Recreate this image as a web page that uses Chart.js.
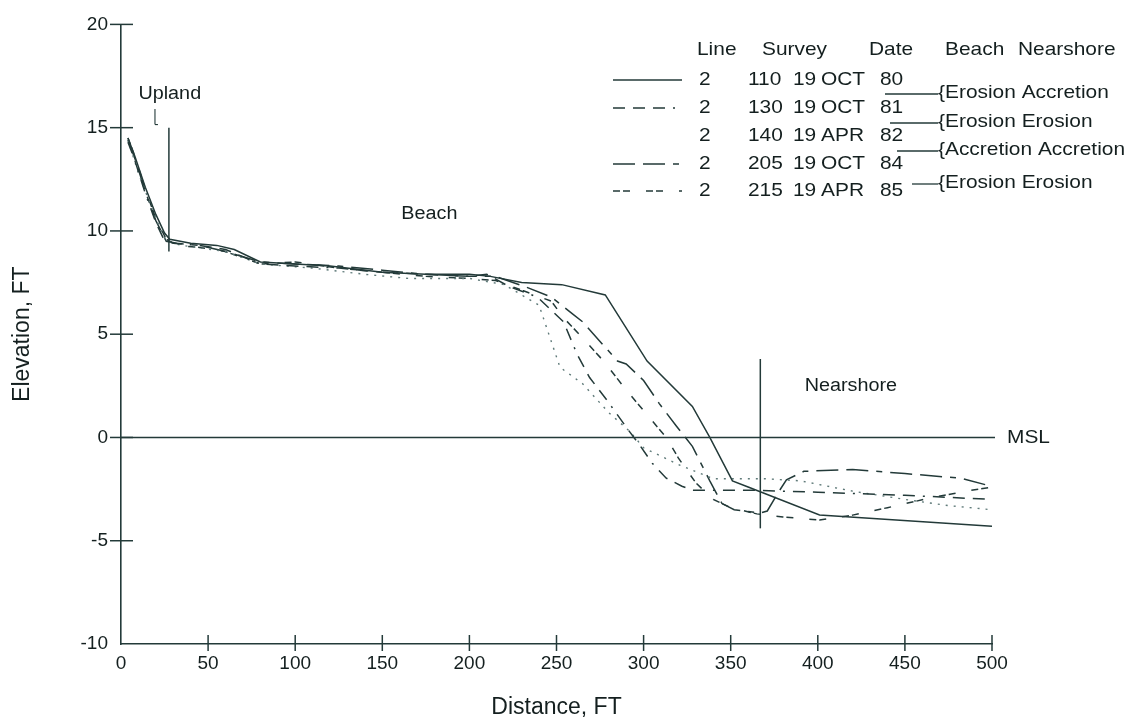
<!DOCTYPE html>
<html>
<head>
<meta charset="utf-8">
<script src="https://cdn.jsdelivr.net/npm/chart.js@4.4.1/dist/chart.umd.min.js"></script>
<style>
  body { margin: 0; background: #fff; }
  canvas { display: block; }
</style>
</head>
<body>
<canvas id="profile" width="1126" height="724"></canvas>
<script>
// Beach profile, line 2 -- distance (ft) vs elevation (ft) for five surveys
const dist110 = [4, 8, 14, 20, 25, 28, 40, 55, 65, 80, 100, 120, 150, 175, 200, 212, 230, 253, 278, 302, 328, 338, 351, 360, 401, 500];
const elev110 = [14.5, 13.6, 12.1, 10.8, 9.9, 9.6, 9.4, 9.3, 9.1, 8.5, 8.4, 8.3, 8.0, 7.9, 7.9, 7.8, 7.5, 7.4, 6.9, 3.7, 1.5, 0.0, -2.1, -2.4, -3.75, -4.3];

const dist130 = [4, 8, 14, 20, 24, 30, 45, 60, 80, 100, 125, 150, 175, 200, 210, 223, 239, 254, 262, 269, 279, 290, 298, 305, 313, 322, 328, 360, 400, 450, 500];
const elev130 = [14.3, 13.4, 11.8, 10.4, 9.7, 9.4, 9.3, 9.1, 8.4, 8.3, 8.2, 8.0, 7.9, 7.8, 7.9, 7.3, 6.8, 5.6, 4.0, 2.9, 1.8, 0.5, -0.4, -1.25, -1.97, -2.36, -2.55, -2.55, -2.65, -2.8, -3.0];

const dist140 = [4, 10, 20, 26, 35, 60, 80, 110, 140, 165, 185, 200, 220, 240, 252, 265, 280, 292, 300, 321, 340, 370, 390, 420, 450, 475, 500];
const elev140 = [14.4, 12.8, 10.6, 9.5, 9.3, 9.0, 8.4, 8.2, 7.9, 7.7, 7.7, 7.7, 7.4, 6.4, 3.4, 2.6, 1.2, 0.3, -0.5, -1.35, -2.0, -2.0, -2.1, -2.6, -3.0, -3.3, -3.5];

const dist205 = [4, 8, 14, 20, 26, 32, 45, 60, 80, 100, 125, 150, 175, 200, 215, 232, 247, 259, 265, 285, 290, 300, 309, 319, 328, 332, 338, 345, 352, 367, 371, 377, 382, 392, 420, 450, 482, 500];
const elev205 = [14.4, 13.5, 11.9, 10.5, 9.5, 9.4, 9.3, 9.0, 8.5, 8.4, 8.3, 8.1, 7.9, 7.8, 7.8, 7.3, 6.8, 6.0, 5.6, 3.7, 3.56, 2.76, 1.64, 0.53, -0.43, -1.1, -2.1, -3.2, -3.5, -3.66, -3.56, -2.7, -2.05, -1.64, -1.55, -1.75, -1.97, -2.37];

const dist215 = [4, 8, 14, 20, 26, 32, 45, 60, 80, 100, 125, 150, 175, 200, 215, 231, 247, 254, 263, 277, 290, 308, 313, 320, 330, 340, 350, 365, 380, 401, 420, 440, 464, 485, 500];
const elev215 = [14.5, 13.6, 12.0, 10.6, 9.6, 9.3, 9.2, 9.0, 8.4, 8.5, 8.2, 8.0, 7.8, 7.7, 7.6, 7.1, 6.6, 5.8, 5.0, 3.7, 2.3, 0.5, 0.0, -1.0, -2.2, -3.0, -3.4, -3.7, -3.85, -4.0, -3.76, -3.4, -2.94, -2.6, -2.4];

// legend table
const lineNumbers = ['2', '2', '2', '2', '2'];
const surveyIds = ['110', '130', '140', '205', '215'];
const surveyDays = ['19', '19', '19', '19', '19'];
const surveyMonths = ['OCT', 'OCT', 'APR', 'OCT', 'APR'];
const surveyYears = ['80', '81', '82', '84', '85'];
const changeNotes = ['{Erosion Accretion', '{Erosion Erosion', '{Accretion Accretion', '{Erosion Erosion'];

// x ticks / y ticks
const xTicks = [0, 50, 100, 150, 200, 250, 300, 350, 400, 450, 500];
const yTicks = [-10, -5, 0, 5, 10, 15, 20];

const ink = '#233a39';
const textInk = '#141f1f';
const fontFamily = '"Liberation Sans", Arial, Helvetica, sans-serif';

function toPoints(xs, ys) {
  return xs.map((d, i) => ({ x: d, y: ys[i] }));
}

function line(ctx, x1, y1, x2, y2) {
  ctx.beginPath();
  ctx.moveTo(x1, y1);
  ctx.lineTo(x2, y2);
  ctx.stroke();
}

// the scanned text is a bit wider than it is tall, so stretch it a little
function wideText(ctx, txt, x, y, size, align) {
  ctx.save();
  ctx.font = size + 'px ' + fontFamily;
  ctx.fillStyle = textInk;
  ctx.textBaseline = 'middle';
  ctx.textAlign = align || 'left';
  ctx.translate(x, y);
  ctx.scale(1.1, 1);
  ctx.fillText(txt, 0, 0);
  ctx.restore();
}

const profileMarks = {
  id: 'profileMarks',
  afterDraw(chart) {
    const ctx = chart.ctx;
    const x = chart.scales.x;
    const y = chart.scales.y;
    ctx.save();
    ctx.strokeStyle = ink;
    ctx.lineWidth = 1.5;

    // tick marks crossing the axes
    yTicks.forEach(v => {
      if (v === -10) return;
      const py = y.getPixelForValue(v);
      line(ctx, x.left - 11, py, x.left + 12, py);
    });
    xTicks.forEach(v => {
      if (v === 0) return;
      const px = x.getPixelForValue(v);
      line(ctx, px, y.bottom - 9, px, y.bottom + 7);
    });

    // mean sea level
    const y0 = y.getPixelForValue(0);
    line(ctx, x.getPixelForValue(0), y0, x.getPixelForValue(500) + 3, y0);
    wideText(ctx, 'MSL', x.right + 15, y0, 19);

    // upland divider
    const ux = x.getPixelForValue(27.5);
    line(ctx, ux, y.getPixelForValue(15.0), ux, y.getPixelForValue(9.0));
    wideText(ctx, 'Upland', x.getPixelForValue(28), y.getPixelForValue(16.65), 18, 'center');
    ctx.lineWidth = 1.1;
    const bx = x.getPixelForValue(19.5);
    line(ctx, bx, y.getPixelForValue(15.9), bx, y.getPixelForValue(15.15));
    line(ctx, bx, y.getPixelForValue(15.15), bx + 3, y.getPixelForValue(15.15));
    ctx.lineWidth = 1.5;

    // nearshore divider
    const nx = x.getPixelForValue(367);
    line(ctx, nx, y.getPixelForValue(3.8), nx, y.getPixelForValue(-4.4));
    wideText(ctx, 'Nearshore', x.getPixelForValue(419), y.getPixelForValue(2.5), 18, 'center');

    wideText(ctx, 'Beach', x.getPixelForValue(177), y.getPixelForValue(10.8), 18, 'center');

    drawLegend(chart);
    ctx.restore();
  }
};

function drawLegend(chart) {
  const ctx = chart.ctx;
  const sets = chart.data.datasets;
  const rowY = [80, 108, 136, 164, 191];

  wideText(ctx, 'Line', 697, 50, 19);
  wideText(ctx, 'Survey', 762, 50, 19);
  wideText(ctx, 'Date', 869, 50, 19);
  wideText(ctx, 'Beach', 945, 50, 19);
  wideText(ctx, 'Nearshore', 1018, 50, 19);

  rowY.forEach((ry, i) => {
    const ds = sets[i];
    if (!ds.hideSample) {
      ctx.save();
      ctx.strokeStyle = ds.borderColor;
      ctx.lineWidth = ds.borderWidth;
      ctx.setLineDash(ds.borderDash || []);
      line(ctx, 613, ry, 682, ry);
      ctx.restore();
    }
    wideText(ctx, lineNumbers[i], 699, ry, 19);
    wideText(ctx, surveyIds[i], 748, ry, 19);
    wideText(ctx, surveyDays[i], 793, ry, 19);
    wideText(ctx, surveyMonths[i], 821, ry, 19);
    wideText(ctx, surveyYears[i], 880, ry, 19);
  });

  // change between consecutive surveys
  const noteY = [93, 122, 150, 183];
  const noteFrom = [885, 890, 897, 912];
  ctx.save();
  ctx.strokeStyle = ink;
  ctx.lineWidth = 1.3;
  changeNotes.forEach((txt, i) => {
    line(ctx, noteFrom[i], noteY[i] + 1, 938, noteY[i] + 1);
    wideText(ctx, txt, 938, noteY[i], 19);
  });
  ctx.restore();
}

const ctx = document.getElementById('profile').getContext('2d');
const profileChart = new Chart(ctx, {
  type: 'line',
  data: {
    datasets: [
      { label: '110', data: toPoints(dist110, elev110), borderColor: ink, borderWidth: 1.5 },
      { label: '130', data: toPoints(dist130, elev130), borderColor: ink, borderWidth: 1.5, borderDash: [12, 8, 12, 8, 12, 8, 2, 8] },
      { label: '140', data: toPoints(dist140, elev140), borderColor: '#5f7a79', borderWidth: 1.4, borderDash: [2, 6], hideSample: true },
      { label: '205', data: toPoints(dist205, elev205), borderColor: ink, borderWidth: 1.5, borderDash: [22, 8, 22, 8, 6, 8] },
      { label: '215', data: toPoints(dist215, elev215), borderColor: ink, borderWidth: 1.5, borderDash: [7, 3, 7, 16] }
    ]
  },
  options: {
    responsive: false,
    animation: false,
    parsing: false,
    elements: {
      point: { radius: 0 },
      line: { tension: 0, fill: false }
    },
    layout: { padding: { top: 21, right: 134, left: 0, bottom: 0 } },
    plugins: {
      legend: { display: false },
      tooltip: { enabled: false }
    },
    scales: {
      x: {
        type: 'linear',
        min: 0,
        max: 500,
        afterBuildTicks: s => { s.ticks = xTicks.map(v => ({ value: v })); },
        afterFit: s => { s.height = 80; },
        grid: { display: false, drawTicks: false },
        border: { display: true, color: ink, width: 1.6 },
        ticks: { color: textInk, padding: 8, maxRotation: 0, font: { family: fontFamily, size: 19 } },
        title: { display: true, text: 'Distance, FT', color: textInk, padding: { bottom: 3 }, font: { family: fontFamily, size: 23 } }
      },
      y: {
        type: 'linear',
        min: -10,
        max: 20,
        afterBuildTicks: s => { s.ticks = yTicks.map(v => ({ value: v })); },
        afterFit: s => { s.width = 121; },
        grid: { display: false, drawTicks: false },
        border: { display: true, color: ink, width: 1.6 },
        ticks: { color: textInk, padding: 13, font: { family: fontFamily, size: 19 } },
        title: { display: true, text: 'Elevation, FT', color: textInk, padding: { top: 9 }, font: { family: fontFamily, size: 23 } }
      }
    }
  },
  plugins: [profileMarks]
});
</script>
</body>
</html>
